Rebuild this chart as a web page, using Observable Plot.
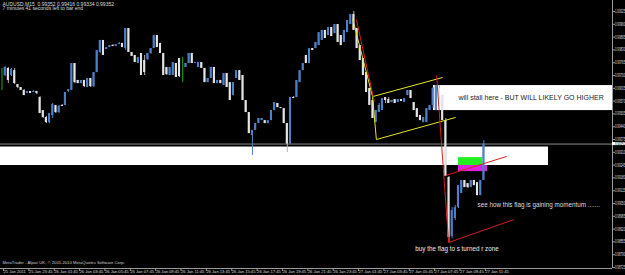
<!DOCTYPE html>
<html><head><meta charset="utf-8">
<script src="https://cdn.jsdelivr.net/npm/d3@7"></script>
<script src="https://cdn.jsdelivr.net/npm/@observablehq/plot@0.6"></script>
<style>html,body{margin:0;padding:0;background:#000;overflow:hidden}</style>
</head><body><div id="chart"></div>
<script>
// AUDUSD M15 bars (index 0 = 25 Jan 21:45, index 152 = 27 Jan 11:45)
const open = [
0.99715,0.99700,0.99736,0.99700,0.99725,0.99654,0.99639,0.99624,0.99609,0.99619,
0.99614,0.99619,0.99588,0.99522,0.99487,0.99461,0.99497,0.99548,0.99512,0.99548,
0.99548,0.99619,0.99624,0.99761,0.99675,0.99659,0.99675,0.99639,0.99685,0.99644,
0.99715,0.99817,0.99878,0.99832,0.99842,0.99852,0.99847,0.99857,0.99863,0.99837,
0.99939,0.99817,0.99802,0.99761,0.99812,0.99776,0.99781,0.99812,0.99837,0.99903,
0.99863,0.99812,0.99741,0.99700,0.99700,0.99761,0.99786,0.99725,0.99741,0.99761,
0.99812,0.99761,0.99741,0.99766,0.99736,0.99664,0.99685,0.99741,0.99659,0.99675,
0.99649,0.99710,0.99664,0.99598,0.99685,0.99725,0.99700,0.99573,0.99512,0.99395,
0.99421,0.99456,0.99471,0.99471,0.99456,0.99471,0.99522,0.99558,0.99537,0.99532,
0.99456,0.99352,0.99588,0.99588,0.99664,0.99725,0.99802,0.99761,0.99837,0.99837,
0.99852,0.99878,0.99929,0.99903,0.99944,0.99913,0.99959,0.99903,0.99868,0.99918,
0.99959,1.00010,0.99939,0.99852,0.99786,0.99715,0.99634,0.99573,0.99461,0.99512,
0.99522,0.99588,0.99578,0.99563,0.99578,0.99563,0.99578,0.99563,0.99598,0.99624,
0.99563,0.99532,0.99497,0.99461,0.99461,0.99522,0.99548,0.99522,0.99634,0.99598,
0.99471,0.99182,0.98882,0.98974,0.99029,0.99101,0.99167,0.99151,0.99131,0.99167,
0.99156,0.99090,0.99167];
const high = [
0.99736,0.99746,0.99741,0.99736,0.99736,0.99654,0.99639,0.99629,0.99619,0.99619,
0.99624,0.99619,0.99593,0.99522,0.99492,0.99507,0.99558,0.99548,0.99548,0.99553,
0.99614,0.99629,0.99761,0.99761,0.99675,0.99675,0.99675,0.99685,0.99685,0.99715,
0.99827,0.99878,0.99878,0.99842,0.99852,0.99857,0.99857,0.99868,0.99863,0.99939,
0.99939,0.99817,0.99802,0.99791,0.99812,0.99802,0.99812,0.99837,0.99903,0.99903,
0.99863,0.99812,0.99741,0.99741,0.99766,0.99761,0.99786,0.99791,0.99761,0.99812,
0.99812,0.99766,0.99766,0.99766,0.99736,0.99685,0.99741,0.99741,0.99675,0.99675,
0.99710,0.99710,0.99664,0.99664,0.99725,0.99725,0.99700,0.99573,0.99512,0.99421,
0.99456,0.99482,0.99482,0.99471,0.99471,0.99522,0.99563,0.99558,0.99537,0.99532,
0.99456,0.99588,0.99593,0.99675,0.99725,0.99761,0.99802,0.99837,0.99837,0.99868,
0.99918,0.99929,0.99929,0.99944,0.99944,0.99959,0.99959,0.99903,0.99929,0.99979,
1.00010,1.00025,0.99939,0.99852,0.99786,0.99715,0.99634,0.99573,0.99522,0.99558,
0.99583,0.99588,0.99588,0.99573,0.99578,0.99578,0.99578,0.99583,0.99624,0.99624,
0.99563,0.99532,0.99497,0.99487,0.99532,0.99548,0.99639,0.99649,0.99649,0.99598,
0.99482,0.99187,0.99029,0.99040,0.99141,0.99167,0.99167,0.99151,0.99167,0.99167,
0.99156,0.99167,0.99370];
const low = [
0.99624,0.99695,0.99659,0.99695,0.99654,0.99634,0.99624,0.99598,0.99609,0.99609,
0.99614,0.99603,0.99507,0.99482,0.99456,0.99456,0.99482,0.99507,0.99507,0.99543,
0.99548,0.99614,0.99624,0.99659,0.99659,0.99659,0.99639,0.99639,0.99639,0.99639,
0.99715,0.99812,0.99802,0.99832,0.99842,0.99847,0.99847,0.99857,0.99842,0.99827,
0.99817,0.99797,0.99766,0.99761,0.99700,0.99700,0.99776,0.99807,0.99837,0.99842,
0.99812,0.99700,0.99700,0.99700,0.99700,0.99690,0.99690,0.99664,0.99741,0.99761,
0.99761,0.99761,0.99741,0.99736,0.99664,0.99664,0.99685,0.99659,0.99659,0.99659,
0.99649,0.99639,0.99573,0.99598,0.99685,0.99675,0.99573,0.99512,0.99405,0.99294,
0.99421,0.99456,0.99471,0.99456,0.99456,0.99471,0.99522,0.99537,0.99532,0.99456,
0.99309,0.99352,0.99583,0.99588,0.99664,0.99725,0.99761,0.99761,0.99827,0.99837,
0.99852,0.99878,0.99888,0.99903,0.99898,0.99913,0.99868,0.99852,0.99868,0.99918,
0.99959,0.99929,0.99837,0.99776,0.99700,0.99614,0.99548,0.99482,0.99461,0.99512,
0.99522,0.99558,0.99558,0.99563,0.99558,0.99563,0.99568,0.99563,0.99598,0.99583,
0.99522,0.99487,0.99471,0.99461,0.99461,0.99522,0.99532,0.99522,0.99573,0.99471,
0.99187,0.98852,0.98872,0.98963,0.99024,0.99101,0.99131,0.99126,0.99131,0.99141,
0.99090,0.99090,0.99167];
const close = [
0.99715,0.99741,0.99675,0.99730,0.99659,0.99639,0.99624,0.99598,0.99619,0.99609,
0.99619,0.99609,0.99507,0.99487,0.99461,0.99507,0.99553,0.99512,0.99543,0.99543,
0.99614,0.99629,0.99761,0.99664,0.99659,0.99675,0.99644,0.99685,0.99644,0.99715,
0.99827,0.99878,0.99802,0.99842,0.99852,0.99847,0.99857,0.99863,0.99842,0.99939,
0.99817,0.99797,0.99766,0.99791,0.99700,0.99715,0.99812,0.99837,0.99903,0.99842,
0.99812,0.99700,0.99705,0.99741,0.99766,0.99690,0.99695,0.99725,0.99761,0.99812,
0.99761,0.99766,0.99766,0.99736,0.99664,0.99685,0.99741,0.99659,0.99675,0.99659,
0.99710,0.99639,0.99573,0.99664,0.99725,0.99675,0.99573,0.99512,0.99405,0.99421,
0.99456,0.99482,0.99482,0.99456,0.99471,0.99522,0.99563,0.99537,0.99532,0.99456,
0.99352,0.99588,0.99583,0.99675,0.99725,0.99761,0.99761,0.99837,0.99827,0.99868,
0.99918,0.99929,0.99888,0.99944,0.99898,0.99959,0.99868,0.99852,0.99929,0.99979,
1.00010,0.99929,0.99837,0.99776,0.99700,0.99614,0.99548,0.99482,0.99522,0.99548,
0.99583,0.99573,0.99558,0.99573,0.99558,0.99578,0.99568,0.99583,0.99624,0.99583,
0.99522,0.99487,0.99471,0.99487,0.99532,0.99548,0.99634,0.99649,0.99573,0.99471,
0.99187,0.98877,0.99014,0.99029,0.99141,0.99167,0.99131,0.99131,0.99167,0.99141,
0.99090,0.99167,0.99352];

const lastPrice = 0.99352;
const priceTicks = [1.00025,0.99960,0.99895,0.99830,0.99765,0.99700,0.99635,0.99570,0.99505,0.99440,
  0.99375,0.99310,0.99245,0.99180,0.99115,0.99050,0.98985,0.98920,0.98855,0.98790,0.98725];
const timeTickBars = [0,8,16,24,32,40,48,56,64,72,80,88,96,104,112,120,128,136,144,152];
const timeLabels = ["25 Jan 2011","25 Jan 23:45","26 Jan 01:45","26 Jan 03:45","26 Jan 05:45",
  "26 Jan 07:45","26 Jan 09:45","26 Jan 11:45","26 Jan 13:45","26 Jan 15:45","26 Jan 17:45",
  "26 Jan 19:45","26 Jan 21:45","26 Jan 23:45","27 Jan 01:45","27 Jan 03:45","27 Jan 05:45",
  "27 Jan 07:45","27 Jan 09:45","27 Jan 11:45"];

// drawn objects (bar index, price)
const zoneX1 = [-0.473, 136.1, 144.0, 144.0];
const zoneX2 = [172.4, 192.587, 151.6, 153.2];
const zoneY1 = [0.99243, 0.99522, 0.99243, 0.99212];
const zoneY2 = [0.99337, 0.99649, 0.99283, 0.99243];
const zoneColor = ["#ffffff", "#ffffff", "#22ee22", "#e020e0"];

const yellowLines = [
  [110.6, 0.99990, 116.9, 0.99593],
  [116.9, 0.99593, 139.0, 0.99690],
  [116.9, 0.99593, 118.1, 0.99375],
  [118.1, 0.99375, 143.1, 0.99487]];
const redLines = [
  [111.8, 0.99985, 117.4, 0.99570],
  [137.1, 0.99700, 140.9, 0.98852],
  [139.9, 0.99192, 159.2, 0.99289],
  [140.9, 0.98852, 161.4, 0.98968]];

const notes = ["will stall here - BUT WILL LIKELY GO HIGHER",
  "see how this flag is gaining momentum .......",
  "buy the flag to s turned r zone"];
const noteX = [144.0, 150.0, 130.4];
const noteY = [0.99588, 0.99045, 0.98821];
const noteColor = ["#222222", "#dddddd", "#eeeeee"];
const noteSize = [7, 6.3, 6.3];

const header1 = "AUDUSD,M15  0.99352 0.99416 0.99334 0.99352";
const header2 = "7 minutes 41 seconds left to bar end";
const copyright = "MetaTrader - Alpari UK, \u00a9 2001-2010 MetaQuotes Software Corp.";

const xDomain = [-0.473, 192.587];
const yDomain = [0.98720, 1.00081];

const bars = open.map((o, i) => ({i, open: o, high: high[i], low: low[i], close: close[i]}));
const bull = bars.filter(d => d.close > d.open);
const bear = bars.filter(d => d.close < d.open);
const doji = bars.filter(d => d.close === d.open);
const zones = zoneX1.map((x1, k) => ({x1, x2: zoneX2[k], y1: zoneY1[k], y2: zoneY2[k], c: zoneColor[k]}));
const seg = a => a.map(([x1, y1, x2, y2]) => ({x1, y1, x2, y2}));
const noteData = notes.map((t, k) => ({t, x: noteX[k], y: noteY[k], c: noteColor[k], s: noteSize[k]}));

const BLUE = "#4d80c8", WHITE = "#e4e4e4";

const marks = [
  Plot.rect(zones.slice(0, 2), {x1: "x1", x2: "x2", y1: "y1", y2: "y2", fill: "#ffffff"}),
  Plot.ruleY([lastPrice], {stroke: "#8a8a8a", strokeWidth: 1}),
  Plot.rect(zones.slice(2, 3), {x1: "x1", x2: "x2", y1: "y1", y2: "y2", fill: zoneColor[2]}),
  Plot.rect(zones.slice(3, 4), {x1: "x1", x2: "x2", y1: "y1", y2: "y2", fill: zoneColor[3]}),
  Plot.ruleX(bull, {x: "i", y1: "low", y2: "high", stroke: BLUE, strokeWidth: 1}),
  Plot.ruleX(bear, {x: "i", y1: "low", y2: "high", stroke: "#b4b4b4", strokeWidth: 1}),
  Plot.ruleX(doji, {x: "i", y1: "low", y2: "high", stroke: "#22aa22", strokeWidth: 1}),
  Plot.rect(bull, {x1: d => d.i - 0.33, x2: d => d.i + 0.33, y1: "open", y2: "close", fill: BLUE}),
  Plot.rect(bear, {x1: d => d.i - 0.33, x2: d => d.i + 0.33, y1: "open", y2: "close", fill: WHITE}),
  Plot.link(seg(yellowLines), {x1: "x1", y1: "y1", x2: "x2", y2: "y2", stroke: "#e6e629", strokeWidth: 1}),
  Plot.link(seg(redLines), {x1: "x1", y1: "y1", x2: "x2", y2: "y2", stroke: "#d42222", strokeWidth: 1}),
  Plot.text(noteData, {x: "x", y: "y", text: "t", fill: d => d.c, fontSize: d => d.s, textAnchor: "start"}),
  Plot.ruleX([xDomain[1]], {stroke: "#9a9a9a"}),
  Plot.ruleY([yDomain[0]], {stroke: "#9a9a9a"}),
  Plot.axisY(priceTicks, {anchor: "right", tickSize: 2, tickPadding: 0.5, tickFormat: d => d.toFixed(5),
    fontSize: 4.6, fill: "#dddddd", stroke: "#9a9a9a"}),
  Plot.axisX(timeTickBars, {anchor: "bottom", tickSize: 3, tickPadding: -1.8, textAnchor: "start", dx: 1.5,
    tickFormat: d => timeLabels[timeTickBars.indexOf(d)], fontSize: 4.1, fill: "#dddddd", stroke: "#9a9a9a"}),
  Plot.rect([lastPrice], {x1: xDomain[1], x2: xDomain[1] + 4.3, y1: d => d - 0.00008, y2: d => d + 0.00008, fill: "#ffffff"}),
  Plot.text([lastPrice], {x: xDomain[1], y: d => d, text: d => d.toFixed(5), dx: 2.5, textAnchor: "start",
    fill: "#000", fontSize: 4.6}),
  Plot.text([header1], {frameAnchor: "top-left", dx: 2, dy: 1.5, lineAnchor: "top", fill: "#dddddd", fontSize: 5}),
  Plot.text([header2], {frameAnchor: "top-left", dx: 2, dy: 6.3, lineAnchor: "top", fill: "#dddddd", fontSize: 5}),
  Plot.text([copyright], {frameAnchor: "bottom-left", dx: 2, dy: -4.5, lineAnchor: "bottom", fill: "#cccccc", fontSize: 4.2})
];

const chart = Plot.plot({
  width: 625, height: 275,
  marginTop: 0, marginLeft: 0, marginRight: 13, marginBottom: 7,
  x: {type: "linear", domain: xDomain},
  y: {type: "linear", domain: yDomain},
  style: {background: "#000", fontFamily: "Liberation Sans, Arial, sans-serif", overflow: "visible"},
  marks
});
document.getElementById("chart").appendChild(chart);

// narrow the right-hand price labels (the groups holding them) so they fit in the thin right margin
const svgLeft = chart.getBoundingClientRect().left;
const groups = new Set();
chart.querySelectorAll("text").forEach(t => {
  if (/^[01]\.\d{5}$/.test(t.textContent) && t.getBoundingClientRect().left - svgLeft > 600) groups.add(t.parentNode);
});
groups.forEach(g => {
  const X = g.querySelector("text").getBoundingClientRect().left - svgLeft;
  const w = document.createElementNS("http://www.w3.org/2000/svg", "g");
  g.parentNode.insertBefore(w, g);
  w.appendChild(g);
  w.setAttribute("transform", `translate(${X},0) scale(0.62,1) translate(${-X},0)`);
});
</script>
</body></html>
